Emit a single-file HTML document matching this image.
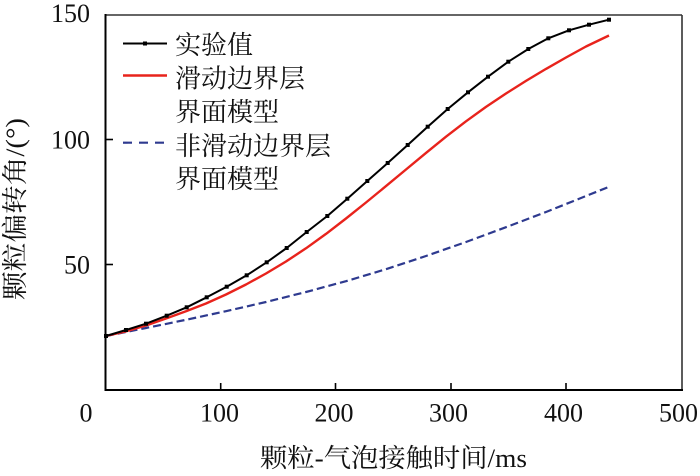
<!DOCTYPE html>
<html>
<head>
<meta charset="utf-8">
<style>
html,body{margin:0;padding:0;background:#fff;}
svg{display:block;}
.num{font-family:"Liberation Serif","Noto Serif CJK SC",serif;font-size:26px;fill:#111;}
.cjk{font-family:"Liberation Serif","Noto Serif CJK SC",serif;font-size:26px;fill:#111;}
</style>
</head>
<body>
<svg width="700" height="476" viewBox="0 0 700 476" xmlns="http://www.w3.org/2000/svg">
  <rect width="700" height="476" fill="#fff"/>
  <!-- frame -->
  <line x1="106" y1="15" x2="682" y2="15" stroke="#333" stroke-width="1.6"/>
  <line x1="682" y1="15" x2="682" y2="390" stroke="#333" stroke-width="1.6"/>
  <line x1="105.5" y1="14" x2="105.5" y2="391" stroke="#000" stroke-width="2"/>
  <line x1="105" y1="390" x2="683" y2="390" stroke="#000" stroke-width="2"/>
  <!-- y ticks -->
  <line x1="106" y1="139.5" x2="113" y2="139.5" stroke="#000" stroke-width="1.6"/>
  <line x1="106" y1="264.5" x2="113" y2="264.5" stroke="#000" stroke-width="1.6"/>
  <!-- x ticks -->
  <line x1="220.7" y1="390" x2="220.7" y2="383" stroke="#000" stroke-width="1.6"/>
  <line x1="335.5" y1="390" x2="335.5" y2="383" stroke="#000" stroke-width="1.6"/>
  <line x1="451" y1="390" x2="451" y2="383" stroke="#000" stroke-width="1.6"/>
  <line x1="566" y1="390" x2="566" y2="383" stroke="#000" stroke-width="1.6"/>

  <!-- y tick labels -->
  <text class="num" x="90" y="22" text-anchor="end">150</text>
  <text class="num" x="90" y="148.3" text-anchor="end">100</text>
  <text class="num" x="90" y="273.3" text-anchor="end">50</text>
  <!-- x tick labels -->
  <text class="num" x="86" y="421.7" text-anchor="middle">0</text>
  <text class="num" x="219.5" y="421.7" text-anchor="middle">100</text>
  <text class="num" x="334" y="421.7" text-anchor="middle">200</text>
  <text class="num" x="448.5" y="421.7" text-anchor="middle">300</text>
  <text class="num" x="563.5" y="421.7" text-anchor="middle">400</text>
  <text class="num" x="678.5" y="421.7" text-anchor="middle">500</text>

  <!-- axis titles -->
  <text class="cjk" x="393.5" y="467" text-anchor="middle" textLength="267" lengthAdjust="spacingAndGlyphs">颗粒-气泡接触时间/ms</text>
  <text class="cjk" transform="translate(24,209) rotate(-90)" text-anchor="middle" textLength="182" lengthAdjust="spacingAndGlyphs">颗粒偏转角/(°)</text>

  <!-- blue dashed -->
  <polyline fill="none" stroke="#2e3a8f" stroke-width="2.2" stroke-dasharray="8,4" stroke-linejoin="round"
    points="106,336 146,328 186,319.8 226,311.2 266,302 306,292 346,281.2 386,269.2 426,256 466,242 506,227.2 546,212 586,196 609,186.8"/>

  <!-- red -->
  <polyline fill="none" stroke="#e8231c" stroke-width="2.4" stroke-linejoin="round"
    points="106,336 126,331.3 146,325.5 166,318.5 186,311.3 206,303.5 226,294.5 246,284.5 266,273.5 286,261.5 306,248.3 326,233.9 346,218.5 366,202.5 386,186.1 406,169.5 426,152.9 446,136.7 466,121.3 486,106.9 506,93.5 526,80.9 546,68.9 566,57.5 586,46.5 609,35.5"/>

  <!-- black with markers -->
  <polyline fill="none" stroke="#000" stroke-width="2" stroke-linejoin="round"
    points="106,336 126,330 146,323.7 166.7,315.7 186.7,307.3 206.7,297.3 226.7,286.7 246.7,275.3 266.7,262.3 286.7,248 306.7,232 327.3,216 347.3,198.7 367.3,181 387.7,163 407.7,145 427.7,126.7 447.7,109 468,92.3 488,76.7 508.3,61.7 528.3,49 548.3,38.3 569,30.3 589,24.7 609,19.7"/>
  <g fill="#000">
    <rect x="104" y="334" width="4" height="4"/>
    <rect x="124" y="328" width="4" height="4"/>
    <rect x="144" y="321.7" width="4" height="4"/>
    <rect x="164.7" y="313.7" width="4" height="4"/>
    <rect x="184.7" y="305.3" width="4" height="4"/>
    <rect x="204.7" y="295.3" width="4" height="4"/>
    <rect x="224.7" y="284.7" width="4" height="4"/>
    <rect x="244.7" y="273.3" width="4" height="4"/>
    <rect x="264.7" y="260.3" width="4" height="4"/>
    <rect x="284.7" y="246" width="4" height="4"/>
    <rect x="304.7" y="230" width="4" height="4"/>
    <rect x="325.3" y="214" width="4" height="4"/>
    <rect x="345.3" y="196.7" width="4" height="4"/>
    <rect x="365.3" y="179" width="4" height="4"/>
    <rect x="385.7" y="161" width="4" height="4"/>
    <rect x="405.7" y="143" width="4" height="4"/>
    <rect x="425.7" y="124.7" width="4" height="4"/>
    <rect x="445.7" y="107" width="4" height="4"/>
    <rect x="466" y="90.3" width="4" height="4"/>
    <rect x="486" y="74.7" width="4" height="4"/>
    <rect x="506.3" y="59.7" width="4" height="4"/>
    <rect x="526.3" y="47" width="4" height="4"/>
    <rect x="546.3" y="36.3" width="4" height="4"/>
    <rect x="567" y="28.3" width="4" height="4"/>
    <rect x="587" y="22.7" width="4" height="4"/>
    <rect x="607" y="17.7" width="4" height="4"/>
  </g>

  <!-- legend -->
  <line x1="123" y1="43.5" x2="167" y2="43.5" stroke="#000" stroke-width="2"/>
  <rect x="143" y="41.5" width="4" height="4" fill="#000"/>
  <text class="cjk" x="175" y="54">实验值</text>
  <line x1="123" y1="75.5" x2="167" y2="75.5" stroke="#e8231c" stroke-width="2.4"/>
  <text class="cjk" x="175" y="87.5">滑动边界层</text>
  <text class="cjk" x="175" y="121">界面模型</text>
  <line x1="123" y1="142.7" x2="167" y2="142.7" stroke="#2e3a8f" stroke-width="2.2" stroke-dasharray="9,7"/>
  <text class="cjk" x="175" y="155">非滑动边界层</text>
  <text class="cjk" x="175" y="188">界面模型</text>
</svg>
</body>
</html>
